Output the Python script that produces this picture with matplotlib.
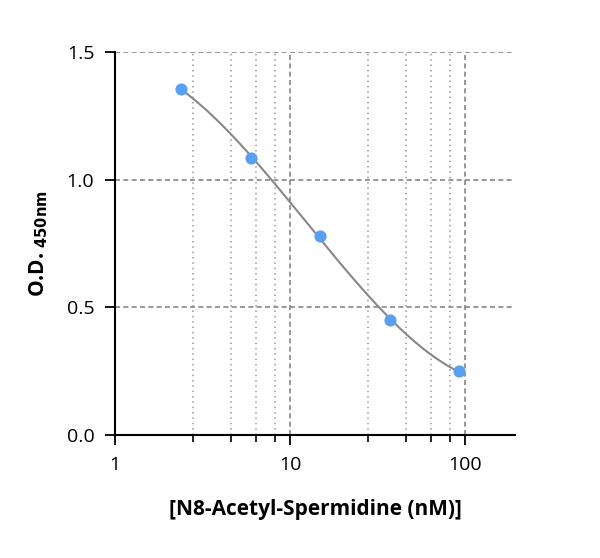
import numpy as np
import matplotlib
matplotlib.use("Agg")
import matplotlib.pyplot as plt
from matplotlib.ticker import FixedLocator, NullFormatter

conc = [2.38, 6.0, 14.8, 37.3, 92.4]
od = [1.355, 1.085, 0.779, 0.45, 0.25]
xticks = [1, 10, 100]
xticklabels = ["1", "10", "100"]
yticks = [0.0, 0.5, 1.0, 1.5]
yticklabels = ["0.0", "0.5", "1.0", "1.5"]
minor_x = [2.79, 4.6, 6.4, 8.2, 27.9, 46, 64, 82]

plt.rcParams["font.family"] = "Open Sans"
fig = plt.figure(figsize=(6, 5.58), dpi=100)
ax = fig.add_axes([0.192, 0.220, 0.666, 0.687])
ax.set_xscale("log")
ax.set_xlim(1, 193)
ax.set_ylim(0, 1.5)

lx = np.log10(conc)
coef = np.polyfit(lx, od, 3)
xs = np.linspace(lx[0], lx[-1], 200)
ax.plot(10**xs, np.polyval(coef, xs), color="#888888", lw=1.5, zorder=3)
ax.scatter(conc, od, s=60, color="#5aa0f0", zorder=4)

ax.set_xticks(xticks)
ax.set_xticklabels(xticklabels, fontsize=14)
ax.set_yticks(yticks)
ax.set_yticklabels(yticklabels, fontsize=14)
ax.xaxis.set_minor_locator(FixedLocator(minor_x))
ax.xaxis.set_minor_formatter(NullFormatter())
ax.tick_params(axis="x", which="minor", length=5, width=1.2, direction="out")
ax.tick_params(axis="both", which="major", length=7, width=1.3, pad=8)
ax.grid(True, which="major", ls=(0, (3, 2)), color="#888888", lw=1.2)
ax.grid(True, which="minor", axis="x", ls=(0, (1, 2.5)), color="#999999", lw=1.1)
for s in ["top", "right"]:
    ax.spines[s].set_visible(False)
for s in ["left", "bottom"]:
    ax.spines[s].set_linewidth(1.5)

ax.set_xlabel("[N8-Acetyl-Spermidine (nM)]", fontsize=15, fontweight="bold", labelpad=18)
ax.set_ylabel(r"O.D. $_{\mathbf{450nm}}$", fontsize=15, fontweight="bold", labelpad=12)
fig.savefig("out.png", dpi=100)
